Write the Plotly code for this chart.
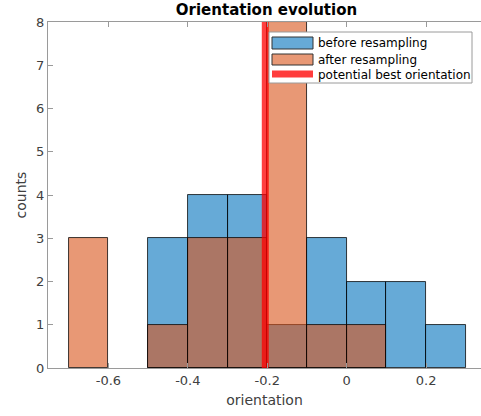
import plotly.graph_objects as go

# Histogram data (bin width 0.1)
bin_width = 0.1
before_left_edges = [-0.5, -0.4, -0.3, -0.2, -0.1, 0.0, 0.1, 0.2]
before_counts = [3, 4, 4, 1, 3, 2, 2, 1]
after_left_edges = [-0.7, -0.6, -0.5, -0.4, -0.3, -0.2, -0.1, 0.0]
after_counts = [3, 0, 1, 3, 3, 8, 1, 1]
best_orientation = -0.205
legend_labels = ["before resampling", "after resampling", "potential best orientation"]
x_ticks = [-0.6, -0.4, -0.2, 0, 0.2]
x_tick_labels = ["-0.6", "-0.4", "-0.2", "0", "0.2"]
y_ticks = [0, 1, 2, 3, 4, 5, 6, 7, 8]

BLUE = "rgba(0,114,189,0.6)"
ORANGE = "rgba(217,83,25,0.6)"
RED = "rgba(255,0,0,0.75)"
AX = "#9a9a9a"
TXT = "#404040"
FONT = "DejaVu Sans"
EDGE = "rgba(0,0,0,0.85)"

W, H = 481, 416
ML, MR, MT, MB = 48, 0, 22, 48
PW, PH = W - ML - MR, H - MT - MB


def px(x):
    return (x - ML) / PW


def py(y):
    return (H - MB - y) / PH


def nonzero(edges, counts):
    xs = [e + bin_width / 2 for e, c in zip(edges, counts) if c > 0]
    ys = [c for c in counts if c > 0]
    return xs, ys


fig = go.Figure()
bx, by = nonzero(before_left_edges, before_counts)
fig.add_trace(go.Bar(x=bx, y=by, width=bin_width,
                     marker=dict(color=BLUE, line=dict(color=EDGE, width=0.9)),
                     showlegend=False, name=legend_labels[0]))
ax_, ay_ = nonzero(after_left_edges, after_counts)
fig.add_trace(go.Bar(x=ax_, y=ay_, width=bin_width,
                     marker=dict(color=ORANGE, line=dict(color=EDGE, width=0.9)),
                     showlegend=False, name=legend_labels[1]))
fig.add_trace(go.Scatter(x=[best_orientation, best_orientation], y=[0, 8], mode="lines",
                         line=dict(color=RED, width=7), showlegend=False,
                         name=legend_labels[2]))

# legend drawn as a box in paper coordinates
shapes = [dict(type="rect", xref="paper", yref="paper", layer="above",
               x0=px(269), x1=px(472), y0=py(83), y1=py(32),
               fillcolor="white", line=dict(color=AX, width=1))]
swatch_fill = ["rgb(102,170,215)", "rgb(232,152,117)"]
rows = [(37, 49), (54, 65)]
for fill, (t, b) in zip(swatch_fill, rows):
    shapes.append(dict(type="rect", xref="paper", yref="paper", layer="above",
                       x0=px(272), x1=px(313), y0=py(b), y1=py(t),
                       fillcolor=fill, line=dict(color="#333333", width=1)))
shapes.append(dict(type="rect", xref="paper", yref="paper", layer="above",
                   x0=px(272), x1=px(313), y0=py(77.5), y1=py(70.5),
                   fillcolor="rgb(255,60,60)", line=dict(width=0)))
annotations = []
for label, yc in zip(legend_labels, [43, 59.5, 74.5]):
    annotations.append(dict(text=label, xref="paper", yref="paper", x=px(316), y=py(yc),
                            xanchor="left", yanchor="middle", showarrow=False,
                            font=dict(family=FONT, size=12, color="black")))

fig.update_layout(
    width=W, height=H,
    margin=dict(l=ML, r=MR, t=MT, b=MB),
    barmode="overlay", bargap=0, showlegend=False,
    plot_bgcolor="white", paper_bgcolor="white",
    font=dict(family=FONT, size=13, color=TXT),
    title=dict(text="<b>Orientation evolution</b>", x=px(266.5), xanchor="center",
               xref="paper", y=1 - 10 / H, yref="container", yanchor="middle",
               font=dict(family=FONT, size=15, color="black")),
    shapes=shapes, annotations=annotations,
    xaxis=dict(range=[-0.752, 0.338], tickvals=x_ticks, ticktext=x_tick_labels,
               ticks="inside", ticklen=5, tickcolor=AX, showline=True, linecolor=AX,
               linewidth=1, mirror="ticks", showgrid=False, zeroline=False, automargin=False,
               title=dict(text="orientation", font=dict(size=14), standoff=8)),
    yaxis=dict(range=[0, 8], tickvals=y_ticks, ticks="inside", ticklen=5, tickcolor=AX,
               showline=True, linecolor=AX, linewidth=1, mirror=False, showgrid=False,
               zeroline=False, automargin=False,
               title=dict(text="counts", font=dict(size=14), standoff=6)),
)
fig.write_html("out.html", config={"displayModeBar": False},
               post_script="document.body.style.margin='0';document.body.style.overflow='hidden';")
